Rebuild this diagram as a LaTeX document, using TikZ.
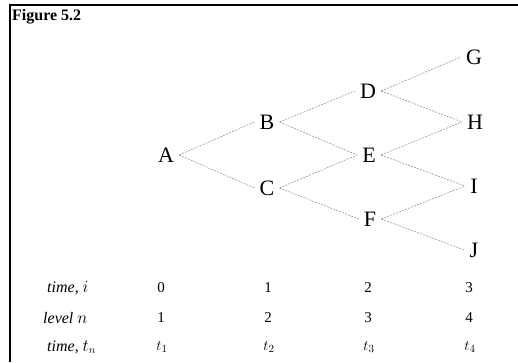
\documentclass[tikz,border=0pt]{standalone}
\usepackage{fontspec}
\setmainfont{Liberation Serif}
\begin{document}
\begin{tikzpicture}[
    x=1pt, y=-1pt,
    state/.style={inner sep=5pt, font=\fontsize{22}{24}\selectfont},
    branch/.style={draw=black!50, line width=0.45pt, dash pattern=on 2pt off 1.2pt},
    rowlabel/.style={anchor=west, inner sep=0pt, font=\fontsize{16}{18}\selectfont\itshape},
    value/.style={inner sep=1pt, font=\fontsize{15}{17}\selectfont},
    frame/.style={draw=black, line width=1.6pt}
]
\useasboundingbox (0,0) rectangle (518,362);

% Frame (only the left and top edges are visible)
\coordinate (botleft) at (10,362);
\coordinate (topright) at (518,5);
\draw[frame] (botleft) |- (topright);

\node[anchor=west, inner sep=0pt, font=\fontsize{16}{18}\selectfont\bfseries] (title) at (12,17) {Figure 5.2};

% Tree nodes
\node[state] (A) at (166,155) {A};
\node[state] (B) at (267,122) {B};
\node[state] (C) at (267,188) {C};
\node[state] (D) at (368,91)  {D};
\node[state] (E) at (369,155) {E};
\node[state] (F) at (370,219) {F};
\node[state] (G) at (474,57)  {G};
\node[state] (H) at (475,122) {H};
\node[state] (I) at (474,186) {I};
\node[state] (J) at (474,250) {J};

% Branches
\draw[branch] (A.east) -- (B.west);
\draw[branch] (A.east) -- (C.west);
\draw[branch] (B.east) -- (D.west);
\draw[branch] (B.east) -- (E.west);
\draw[branch] (C.east) -- (E.west);
\draw[branch] (C.east) -- (F.west);
\draw[branch] (D.east) -- (G.west);
\draw[branch] (D.east) -- (H.west);
\draw[branch] (E.east) -- (H.west);
\draw[branch] (E.east) -- (I.west);
\draw[branch] (F.east) -- (I.west);
\draw[branch] (F.east) -- (J.west);

% Rows under the tree
\node[rowlabel] (timei)  at (47,288) {time, $i$};
\node[rowlabel] (leveln) at (43,318) {level $n$};
\node[rowlabel] (timet)  at (47,347) {time, $t_n$};

\node[value] (i0) at (161,288) {0};
\node[value] (i1) at (268,288) {1};
\node[value] (i2) at (368,288) {2};
\node[value] (i3) at (469,288) {3};

\node[value] (n1) at (161,318) {1};
\node[value] (n2) at (268,318) {2};
\node[value] (n3) at (368,318) {3};
\node[value] (n4) at (469,318) {4};

\node[value] (t1) at (162,347) {$t_1$};
\node[value] (t2) at (269,347) {$t_2$};
\node[value] (t3) at (369,347) {$t_3$};
\node[value] (t4) at (470,347) {$t_4$};

\end{tikzpicture}
\end{document}
